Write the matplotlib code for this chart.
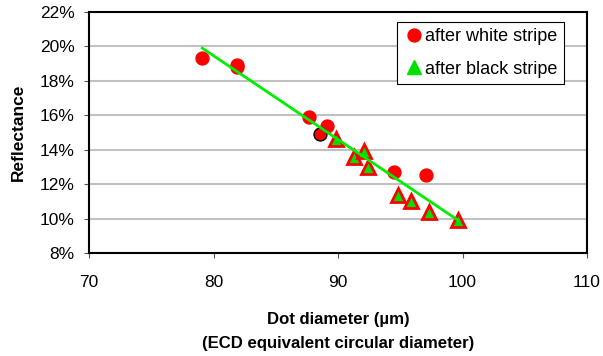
import matplotlib.pyplot as plt

plt.rcParams['font.family'] = ['Liberation Sans', 'DejaVu Sans']

# after white stripe (red dots)
white_x = [79.1, 81.9, 81.9, 87.7, 89.1, 94.5, 97.1]
white_y = [19.3, 18.95, 18.8, 15.9, 15.4, 12.7, 12.55]
# the dot with a dark outline
dark_x = [88.55]
dark_y = [14.9]

# after black stripe (green triangles)
black_x = [89.8, 91.3, 92.1, 92.4, 94.8, 95.9, 97.3, 99.6]
black_y = [14.65, 13.6, 13.95, 13.0, 11.35, 11.0, 10.4, 9.9]

# trend line end points
trend_x = [79.1, 99.65]
trend_y = [19.9, 9.9]

fig = plt.figure(figsize=(6.03, 3.56), dpi=100)
ax = fig.add_axes([89 / 603, 1 - 253 / 356, 498 / 603, 241 / 356])

ax.set_xlim(70, 110)
ax.set_ylim(8, 22)
ax.set_yticks(range(8, 23, 2))
ax.set_yticklabels([f'{v}%' for v in range(8, 23, 2)])
ax.set_xticks(range(70, 111, 10))
ax.grid(axis='y', color='#c0c0c0', lw=1.5)
ax.set_axisbelow(True)
for s in ax.spines.values():
    s.set_color('black')
    s.set_linewidth(1.5)
ax.tick_params(labelsize=12.5, direction='out', length=3.5, width=0.8,
               color='#555555')
ax.tick_params(axis='x', pad=12)
ax.tick_params(axis='y', pad=7)

ax.plot(white_x, white_y, 'o', color='red', ms=9.3, mec='red', ls='none',
        label='after white stripe', zorder=3)
ax.plot(dark_x, dark_y, 'o', color='red', ms=9.3, mec='black', mew=1.0,
        ls='none', zorder=3)
ax.plot(black_x, black_y, '^', mfc='#00e000', mec='red', mew=2, ms=10,
        ls='none', zorder=4)
ax.plot(trend_x, trend_y, color='#00ee00', lw=2, zorder=5)

# legend proxies
ax.plot([], [], '^', color='#00e000', ms=10, ls='none', label='after black stripe')
h, l = ax.get_legend_handles_labels()
leg = ax.legend(h, l, loc='upper right', bbox_to_anchor=(0.954, 0.959),
                borderaxespad=0, fontsize=13, frameon=True, fancybox=False,
                framealpha=1, edgecolor='black', handletextpad=0.05,
                borderpad=0.35, labelspacing=0.85, handlelength=1.2)
leg.get_frame().set_linewidth(0.8)

ax.set_xlabel('Dot diameter (µm)\n(ECD equivalent circular diameter)',
              fontsize=12.1, fontweight='bold', linespacing=1.8, labelpad=16)
ax.set_ylabel('Reflectance', fontsize=12.5, fontweight='bold', labelpad=10)

fig.savefig('out.png', dpi=100)
